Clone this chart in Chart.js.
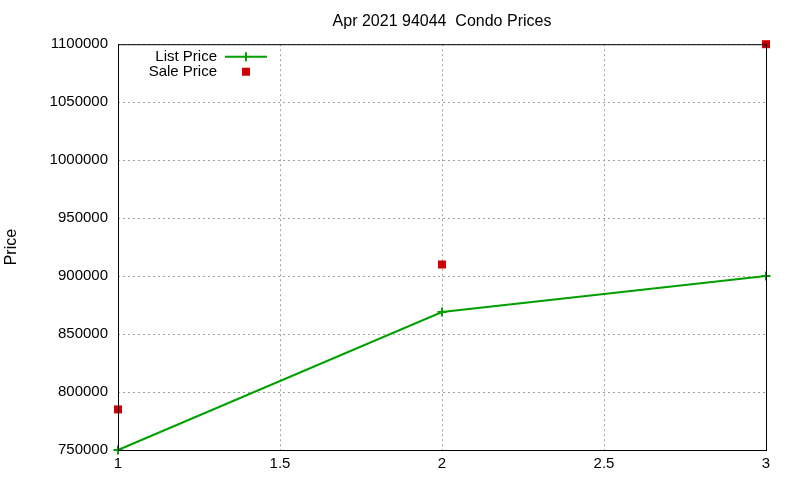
<!DOCTYPE html>
<html>
<head>
<meta charset="utf-8">
<title>Apr 2021 94044 Condo Prices</title>
<script src="https://cdn.jsdelivr.net/npm/chart.js@4"></script>
<style>
  body { margin: 0; background: #fff; }
  #wrap { width: 800px; height: 480px; }
</style>
</head>
<body>
<div id="wrap"><canvas id="myChart"></canvas></div>
<script>
// dados
const titulo = 'Apr 2021 94044  Condo Prices';
const xValores = [1, 2, 3];
const listPrice = [750000, 869000, 900000];
const salePrice = [785000, 910000, 1100000];
const xMin = 1, xMax = 3, xPasso = 0.5;
const yMin = 750000, yMax = 1100000, yPasso = 50000;

const verde = '#00a000';
const vermelho = '#cc0000';
const fonte = 'Liberation Sans, Arial, sans-serif';

// caixa preta em volta + legenda no estilo gnuplot
const moldura = {
  id: 'moldura',
  afterLayout(chart) {
    // centraliza o titulo sobre a area do grafico
    const t = chart.titleBlock;
    if (t) {
      t.left = chart.chartArea.left;
      t.right = chart.chartArea.right;
      t.width = t.right - t.left;
    }
  },
  afterDatasetsDraw(chart) {
    const { ctx, chartArea } = chart;
    ctx.save();
    ctx.strokeStyle = '#000';
    ctx.lineWidth = 1;
    ctx.strokeRect(chartArea.left + 0.5, chartArea.top + 0.5,
      chartArea.right - chartArea.left, chartArea.bottom - chartArea.top);

    // legenda
    const xTexto = chartArea.left + 99;
    const xMarca = chartArea.left + 128;
    let y = chartArea.top + 12.5;
    ctx.font = '15px ' + fonte;
    ctx.textAlign = 'right';
    ctx.textBaseline = 'middle';
    chart.data.datasets.forEach(function (ds) {
      ctx.fillStyle = '#000';
      ctx.fillText(ds.label, xTexto, y);
      if (ds.showLine) {
        ctx.strokeStyle = ds.borderColor;
        ctx.lineWidth = 2;
        ctx.beginPath();
        ctx.moveTo(xMarca - 21, y);
        ctx.lineTo(xMarca + 21, y);
        ctx.moveTo(xMarca, y - 4.5);
        ctx.lineTo(xMarca, y + 4.5);
        ctx.stroke();
      } else {
        ctx.fillStyle = ds.backgroundColor;
        ctx.fillRect(xMarca - 4, y - 4, 8, 8);
      }
      y += 15;
    });
    ctx.restore();
  }
};

const ctx = document.getElementById('myChart');

new Chart(ctx, {
  type: 'scatter',
  data: {
    datasets: [{
      label: 'List Price',
      data: xValores.map((x, i) => ({ x: x, y: listPrice[i] })),
      showLine: true,
      borderColor: verde,
      backgroundColor: verde,
      borderWidth: 2,
      pointStyle: 'cross',
      pointRadius: 4.5,
      pointBorderWidth: 2,
      clip: false
    }, {
      label: 'Sale Price',
      data: xValores.map((x, i) => ({ x: x, y: salePrice[i] })),
      showLine: false,
      borderColor: vermelho,
      backgroundColor: vermelho,
      pointStyle: 'rect',
      pointRadius: 5.66,
      pointBorderWidth: 0,
      clip: false
    }]
  },
  options: {
    responsive: true,
    maintainAspectRatio: false,
    animation: false,
    layout: { padding: { left: 0, right: 34, top: 0, bottom: 0 } },
    plugins: {
      legend: { display: false },
      tooltip: { enabled: false },
      title: {
        display: true,
        text: titulo,
        color: '#000',
        font: { family: fonte, size: 16, weight: 'normal' },
        padding: { top: 12, bottom: 13 }
      }
    },
    scales: {
      x: {
        type: 'linear',
        min: xMin,
        max: xMax,
        border: { display: false, dash: [2, 3] },
        grid: {
          color: '#a0a0a0',
          drawTicks: false,
          tickLength: 0
        },
        ticks: {
          stepSize: xPasso,
          color: '#000',
          padding: 5,
          font: { family: fonte, size: 15 },
          callback: v => String(v)
        },
        afterFit(scale) { scale.height = 30; }
      },
      y: {
        min: yMin,
        max: yMax,
        border: { display: false, dash: [2, 3] },
        grid: {
          color: '#a0a0a0',
          drawTicks: false,
          tickLength: 0
        },
        ticks: {
          stepSize: yPasso,
          color: '#000',
          padding: 10,
          font: { family: fonte, size: 15 },
          callback: v => String(v)
        },
        title: {
          display: true,
          text: 'Price',
          color: '#000',
          font: { family: fonte, size: 16 },
          padding: { top: 2, bottom: 0 }
        },
        afterFit(scale) { scale.width = 118; }
      }
    }
  },
  plugins: [moldura]
});
</script>
</body>
</html>
